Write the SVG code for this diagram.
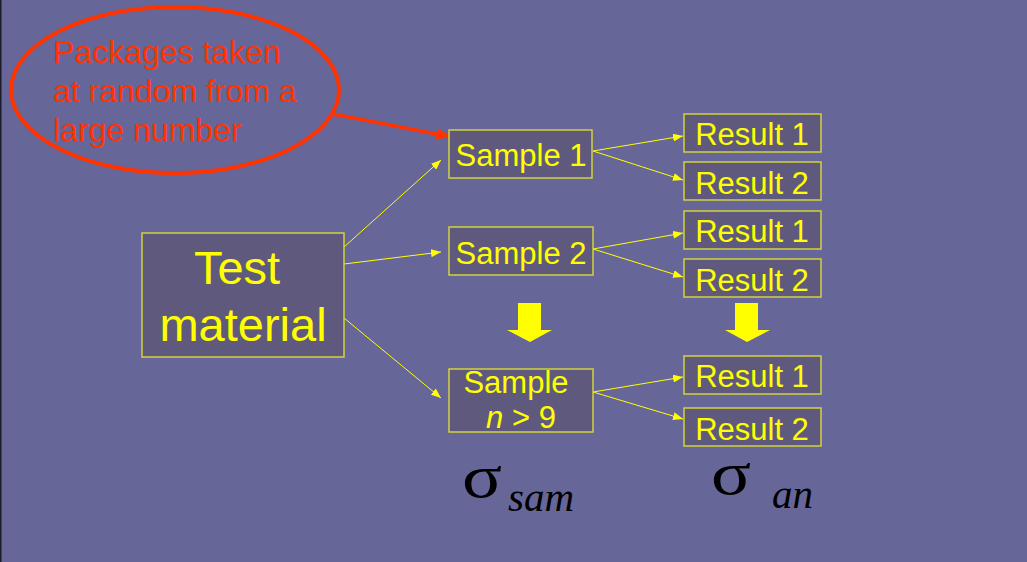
<svg xmlns="http://www.w3.org/2000/svg" width="1027" height="562" viewBox="0 0 1027 562">
  <defs>
    <marker id="tip" viewBox="0 0 10 8" refX="10" refY="4" markerWidth="10" markerHeight="8" markerUnits="userSpaceOnUse" orient="auto">
      <path d="M0,0 L10,4 L0,8 Z" fill="#ffff00"/>
    </marker>
    <marker id="tipRed" viewBox="0 0 14 10" refX="14" refY="5" markerWidth="16" markerHeight="12" markerUnits="userSpaceOnUse" orient="auto">
      <path d="M0,0 L14,5 L0,10 Z" fill="#ff3300"/>
    </marker>
    <style>
      .box { fill: #5f5a7d; stroke: #d2d23c; stroke-width: 1.5; }
      .lbl { font-family: "Liberation Sans", Arial, sans-serif; fill: #ffff00; text-anchor: middle; font-size: 31px; }
      .link { stroke: #ffff00; stroke-width: 1; fill: none; marker-end: url(#tip); }
      .sym { font-family: "Liberation Serif", "Times New Roman", serif; fill: #000000; font-style: italic; }
      .sigma { font-family: "Liberation Serif", "Times New Roman", serif; fill: #000000; font-size: 62px; }
      .big { fill: #ffff00; }
    </style>
  </defs>

  <rect x="0" y="0" width="1027" height="562" fill="#666699"/>
  <rect x="0" y="0" width="1.5" height="562" fill="#1a1a2a"/>

  <!-- callout -->
  <g id="callout">
    <ellipse cx="175" cy="90" rx="164" ry="83" fill="none" stroke="#ff3300" stroke-width="4"/>
    <text font-family="Liberation Sans, Arial, sans-serif" font-size="32" fill="#ff3300">
      <tspan x="53" y="63">Packages taken</tspan>
      <tspan x="53" y="102">at random from a</tspan>
      <tspan x="53" y="141">large number</tspan>
    </text>
  </g>

  <!-- connectors -->
  <g id="connectors">
    <line x1="333" y1="114" x2="452" y2="137" stroke="#ff3300" stroke-width="3.5" marker-end="url(#tipRed)"/>
    <line class="link" x1="344" y1="247" x2="441" y2="160"/>
    <line class="link" x1="344" y1="264" x2="441" y2="252"/>
    <line class="link" x1="344" y1="318" x2="441" y2="398"/>
    <line class="link" x1="593" y1="151" x2="683" y2="136"/>
    <line class="link" x1="593" y1="151" x2="683" y2="180"/>
    <line class="link" x1="593" y1="249" x2="683" y2="233"/>
    <line class="link" x1="593" y1="249" x2="683" y2="277"/>
    <line class="link" x1="593" y1="392" x2="683" y2="377"/>
    <line class="link" x1="593" y1="392" x2="683" y2="419"/>
    <path class="big" d="M518,303 H541 V330 H552 L530,342 L507,330 H518 Z"/>
    <path class="big" d="M735,303 H758 V330 H770 L747,342 L725,330 H735 Z"/>
  </g>

  <g id="test-material">
    <rect class="box" x="142" y="233" width="202" height="124"/>
    <text class="lbl" style="font-size:47px"><tspan x="237" y="284">Test</tspan><tspan x="243" y="341">material</tspan></text>
  </g>

  <g id="sample-1">
    <rect class="box" x="449" y="130" width="143" height="48"/>
    <text class="lbl" x="521" y="166">Sample 1</text>
  </g>
  <g id="sample-2">
    <rect class="box" x="449" y="227" width="144" height="48"/>
    <text class="lbl" x="521" y="264">Sample 2</text>
  </g>
  <g id="sample-n">
    <rect class="box" x="449" y="369" width="144" height="63"/>
    <text class="lbl"><tspan x="516" y="393">Sample</tspan><tspan x="521" y="428"><tspan font-style="italic">n</tspan> &gt; 9</tspan></text>
  </g>

  <g id="result-1a">
    <rect class="box" x="684" y="114" width="137" height="38"/>
    <text class="lbl" x="752" y="145">Result 1</text>
  </g>
  <g id="result-2a">
    <rect class="box" x="684" y="162" width="137" height="38"/>
    <text class="lbl" x="752" y="194">Result 2</text>
  </g>
  <g id="result-1b">
    <rect class="box" x="684" y="211" width="137" height="38"/>
    <text class="lbl" x="752" y="242">Result 1</text>
  </g>
  <g id="result-2b">
    <rect class="box" x="684" y="259" width="137" height="38"/>
    <text class="lbl" x="752" y="291">Result 2</text>
  </g>
  <g id="result-1n">
    <rect class="box" x="684" y="356" width="137" height="38"/>
    <text class="lbl" x="752" y="387">Result 1</text>
  </g>
  <g id="result-2n">
    <rect class="box" x="684" y="408" width="137" height="38"/>
    <text class="lbl" x="752" y="440">Result 2</text>
  </g>

  <g id="sigma-sam">
    <text class="sigma" transform="translate(462,497) scale(1.2,1)">σ</text>
    <text class="sym" font-size="41" x="508" y="511">sam</text>
  </g>
  <g id="sigma-an">
    <text class="sigma" transform="translate(711,494) scale(1.2,1)">σ</text>
    <text class="sym" font-size="41" x="772" y="508">an</text>
  </g>
</svg>
